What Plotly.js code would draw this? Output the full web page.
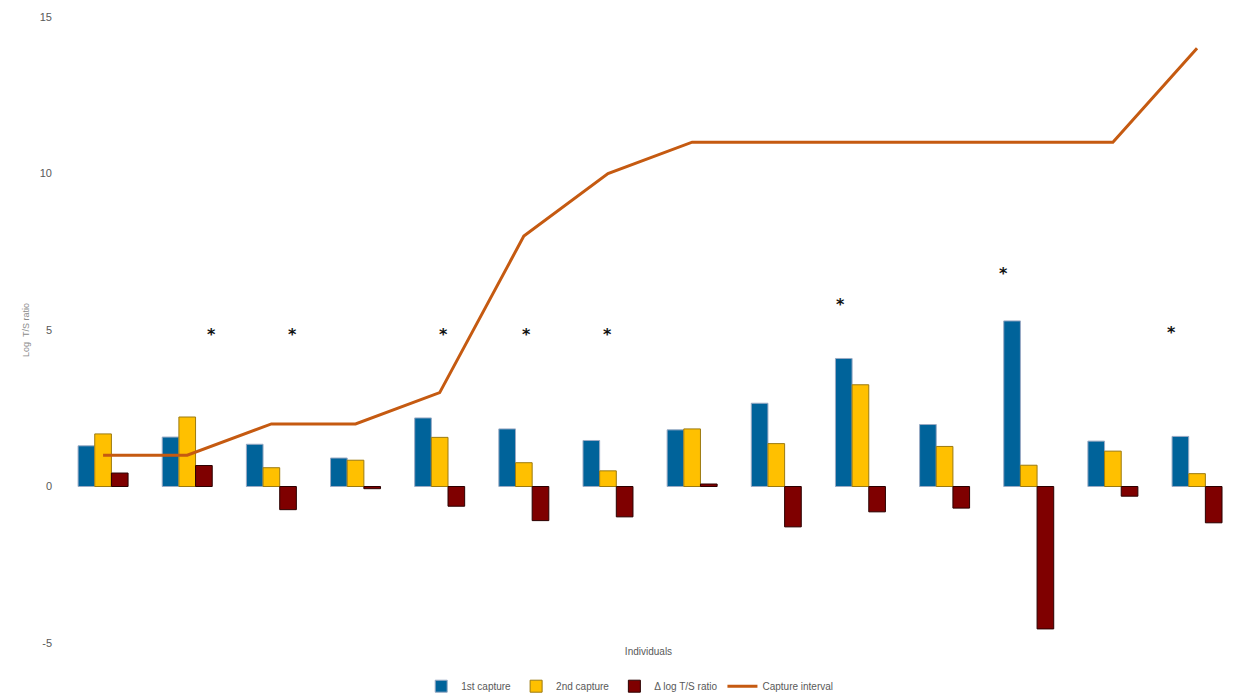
<!DOCTYPE html>
<html>
<head>
<meta charset="utf-8">
<script src="https://cdn.plot.ly/plotly-3.0.1.min.js"></script>
<style>
  html, body { margin: 0; padding: 0; background: #fff; }
  #chart { width: 1236px; height: 693px; }
</style>
</head>
<body>
<div id="chart"></div>
<script>
// Individuals (14 animals, each captured twice)
const individuals = ['1','2','3','4','5','6','7','8','9','10','11','12','13','14'];

// Log T/S ratio at first and second capture, and the change between them
const firstCapture  = [1.30, 1.58, 1.35, 0.91, 2.19, 1.84, 1.47, 1.81, 2.66, 4.09, 1.98, 5.29, 1.45, 1.60];
const secondCapture = [1.68, 2.22, 0.60, 0.84, 1.57, 0.76, 0.50, 1.84, 1.37, 3.25, 1.28, 0.68, 1.13, 0.41];
const deltaLogTS    = [0.43, 0.67, -0.74, -0.07, -0.63, -1.09, -0.97, 0.08, -1.29, -0.81, -0.69, -4.55, -0.31, -1.16];

// Time between the two captures
const captureInterval = [1, 1, 2, 2, 3, 8, 10, 11, 11, 11, 11, 11, 11, 14];

// Y-axis ticks (plain hyphen for the minus sign)
const yTickVals = [-5, 0, 5, 10, 15];
const yTickText = ['-5', '0', '5', '10', '15'];

// Significance markers: which individual, and the height of the asterisk
const sigIndividuals = ['2', '3', '5', '6', '7', '10', '12', '14'];
const sigHeights     = [4.93, 4.93, 4.93, 4.93, 4.93, 5.87, 6.88, 4.98];
// horizontal nudge of each asterisk from its group centre, in category widths
const sigNudge       = [0.29, 0.25, 0.05, 0.03, 0.0, -0.24, -0.30, -0.30];

const tickGrey = '#595959';

const barOpts = (name, y, fill, edge) => ({
  type: 'bar', name: name, x: individuals, y: y,
  marker: { color: fill, line: { color: edge, width: 1 } },
  hoverinfo: 'x+y'
});

const traces = [
  barOpts('1st capture', firstCapture, '#00639A', '#9AAAC4'),
  barOpts('2nd capture', secondCapture, '#FFC000', '#9C7A10'),
  barOpts('\u0394 log T/S ratio', deltaLogTS, '#7F0000', '#2A0000'),
  {
    type: 'scatter', mode: 'lines', name: 'Capture interval',
    x: individuals, y: captureInterval,
    line: { color: '#C55A11', width: 3 }
  }
];

const annotations = sigIndividuals.map((ind, i) => ({
  x: individuals.indexOf(ind) + sigNudge[i],
  y: sigHeights[i],
  xref: 'x', yref: 'y',
  text: '<b>*</b>', showarrow: false,
  yanchor: 'middle', yshift: -2,
  font: { family: 'DejaVu Sans, sans-serif', size: 16, color: '#111' }
}));

const layout = {
  width: 1236, height: 693,
  margin: { l: 61, r: 0, t: 17, b: 50, autoexpand: false },
  paper_bgcolor: '#ffffff', plot_bgcolor: '#ffffff',
  font: { family: 'Liberation Sans, Arial, sans-serif', color: tickGrey },
  barmode: 'group', bargap: 0.406, bargroupgap: 0,
  showlegend: true,
  legend: {
    orientation: 'h', x: 0.484, xanchor: 'center', y: -0.069, yanchor: 'middle',
    font: { size: 10, color: tickGrey }, traceorder: 'normal'
  },
  xaxis: {
    type: 'category', range: [-0.5, 13.463], automargin: false,
    showticklabels: false, ticks: '', showgrid: false, zeroline: false, showline: false,
    title: { text: 'Individuals', font: { size: 10, color: tickGrey }, standoff: 4 }
  },
  yaxis: {
    range: [-5, 15], tickvals: yTickVals, ticktext: yTickText, automargin: false,
    tickfont: { size: 11, color: tickGrey },
    ticks: '', ticklabelstandoff: 8,
    showgrid: false, zeroline: false, showline: false,
    title: { text: 'Log  T/S ratio', font: { size: 9, color: '#8c8c8c' }, standoff: 8 }
  },
  annotations: annotations
};

Plotly.newPlot('chart', traces, layout, { displayModeBar: false, staticPlot: true });
</script>
</body>
</html>
